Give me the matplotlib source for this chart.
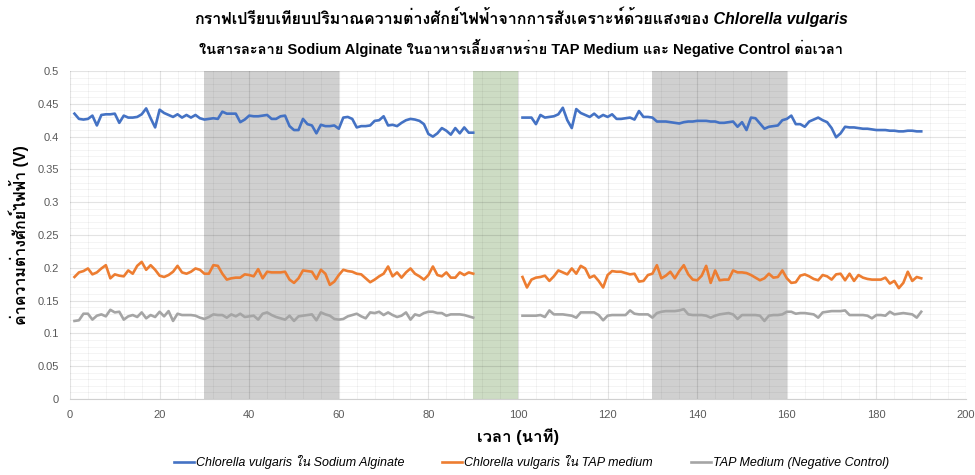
import numpy as np
import matplotlib
matplotlib.use('Agg')
import matplotlib.pyplot as plt
from matplotlib import font_manager
from matplotlib.ft2font import FT2Font
from matplotlib.offsetbox import TextArea, HPacker, AnchoredOffsetbox
from matplotlib.ticker import MultipleLocator

# find some font that can draw Thai
thai_family = None
for f in font_manager.fontManager.ttflist:
    try:
        if 0x0E01 in FT2Font(f.fname).get_charmap():
            thai_family = f.name
            break
    except Exception:
        pass
families = ['Liberation Sans']
if thai_family:
    families.append(thai_family)
families.append('DejaVu Sans')
plt.rcParams['font.family'] = families

#%% data
time_1 = np.arange(1, 91)
time_2 = np.arange(101, 191)

alginate_1 = [0.435, 0.427, 0.426, 0.427, 0.432, 0.417, 0.433, 0.434, 0.434, 0.435,
              0.421, 0.432, 0.429, 0.429, 0.430, 0.434, 0.443, 0.428, 0.414, 0.441,
              0.436, 0.433, 0.430, 0.434, 0.429, 0.433, 0.429, 0.433, 0.428, 0.426,
              0.427, 0.428, 0.427, 0.438, 0.435, 0.435, 0.435, 0.422, 0.426, 0.432,
              0.431, 0.431, 0.432, 0.433, 0.427, 0.427, 0.431, 0.432, 0.416, 0.410,
              0.410, 0.427, 0.419, 0.417, 0.405, 0.418, 0.416, 0.416, 0.417, 0.412,
              0.429, 0.430, 0.427, 0.414, 0.416, 0.416, 0.417, 0.424, 0.425, 0.431,
              0.417, 0.418, 0.416, 0.421, 0.425, 0.427, 0.426, 0.424, 0.419, 0.404,
              0.400, 0.405, 0.413, 0.409, 0.403, 0.413, 0.405, 0.414, 0.406, 0.406]
alginate_2 = [0.429, 0.429, 0.429, 0.419, 0.433, 0.429, 0.430, 0.431, 0.434, 0.444,
              0.425, 0.413, 0.442, 0.436, 0.433, 0.430, 0.435, 0.429, 0.433, 0.430,
              0.434, 0.427, 0.427, 0.428, 0.429, 0.426, 0.439, 0.430, 0.430, 0.429,
              0.423, 0.423, 0.423, 0.422, 0.421, 0.420, 0.422, 0.423, 0.423, 0.424,
              0.424, 0.424, 0.423, 0.423, 0.421, 0.421, 0.422, 0.423, 0.415, 0.422,
              0.410, 0.429, 0.428, 0.420, 0.412, 0.415, 0.416, 0.417, 0.425, 0.427,
              0.432, 0.419, 0.419, 0.415, 0.423, 0.426, 0.429, 0.425, 0.422, 0.413,
              0.399, 0.405, 0.415, 0.414, 0.414, 0.413, 0.412, 0.412, 0.411, 0.410,
              0.410, 0.410, 0.409, 0.409, 0.408, 0.408, 0.409, 0.409, 0.408, 0.408]

tap_1 = [0.186, 0.193, 0.195, 0.199, 0.190, 0.193, 0.199, 0.204, 0.184, 0.190,
         0.188, 0.187, 0.196, 0.191, 0.203, 0.209, 0.197, 0.204, 0.197, 0.188,
         0.186, 0.189, 0.194, 0.203, 0.193, 0.191, 0.194, 0.199, 0.197, 0.191,
         0.191, 0.204, 0.203, 0.191, 0.182, 0.184, 0.185, 0.185, 0.190, 0.189,
         0.187, 0.198, 0.184, 0.194, 0.193, 0.193, 0.193, 0.194, 0.182, 0.177,
         0.184, 0.196, 0.195, 0.194, 0.183, 0.197, 0.191, 0.174, 0.179, 0.189,
         0.197, 0.195, 0.194, 0.191, 0.190, 0.184, 0.178, 0.182, 0.187, 0.191,
         0.202, 0.187, 0.193, 0.185, 0.193, 0.199, 0.191, 0.187, 0.182, 0.189,
         0.202, 0.189, 0.187, 0.193, 0.185, 0.185, 0.193, 0.189, 0.193, 0.191]
tap_2 = [0.186, 0.170, 0.182, 0.185, 0.186, 0.188, 0.180, 0.187, 0.196, 0.193,
         0.190, 0.199, 0.191, 0.203, 0.199, 0.185, 0.188, 0.180, 0.170, 0.189,
         0.195, 0.194, 0.194, 0.192, 0.190, 0.191, 0.179, 0.180, 0.189, 0.191,
         0.204, 0.184, 0.188, 0.194, 0.184, 0.195, 0.204, 0.190, 0.182, 0.181,
         0.188, 0.203, 0.177, 0.196, 0.181, 0.182, 0.182, 0.196, 0.193, 0.193,
         0.192, 0.189, 0.185, 0.181, 0.184, 0.191, 0.185, 0.186, 0.196, 0.184,
         0.177, 0.178, 0.188, 0.190, 0.187, 0.183, 0.181, 0.189, 0.187, 0.182,
         0.190, 0.191, 0.181, 0.191, 0.180, 0.189, 0.185, 0.183, 0.182, 0.182,
         0.182, 0.185, 0.176, 0.180, 0.169, 0.177, 0.194, 0.180, 0.186, 0.184]

control_1 = [0.119, 0.120, 0.130, 0.130, 0.121, 0.127, 0.129, 0.126, 0.136, 0.132,
             0.133, 0.121, 0.126, 0.128, 0.125, 0.132, 0.123, 0.128, 0.125, 0.133,
             0.126, 0.134, 0.119, 0.130, 0.128, 0.128, 0.128, 0.127, 0.124, 0.122,
             0.125, 0.129, 0.128, 0.128, 0.124, 0.129, 0.126, 0.130, 0.125, 0.126,
             0.127, 0.121, 0.130, 0.132, 0.128, 0.125, 0.123, 0.121, 0.127, 0.119,
             0.126, 0.127, 0.128, 0.129, 0.120, 0.132, 0.129, 0.127, 0.122, 0.121,
             0.122, 0.126, 0.128, 0.130, 0.126, 0.123, 0.132, 0.131, 0.133, 0.128,
             0.132, 0.128, 0.125, 0.127, 0.132, 0.121, 0.129, 0.127, 0.131, 0.133,
             0.133, 0.131, 0.131, 0.127, 0.129, 0.129, 0.129, 0.128, 0.126, 0.124]
control_2 = [0.127, 0.127, 0.127, 0.127, 0.128, 0.125, 0.135, 0.129, 0.129, 0.129,
             0.128, 0.127, 0.124, 0.132, 0.132, 0.132, 0.132, 0.128, 0.120, 0.127,
             0.128, 0.128, 0.128, 0.128, 0.135, 0.130, 0.129, 0.129, 0.129, 0.124,
             0.131, 0.133, 0.134, 0.134, 0.134, 0.135, 0.137, 0.129, 0.128, 0.128,
             0.128, 0.127, 0.124, 0.127, 0.129, 0.130, 0.131, 0.129, 0.122, 0.128,
             0.128, 0.128, 0.128, 0.127, 0.119, 0.127, 0.128, 0.128, 0.129, 0.133,
             0.133, 0.130, 0.131, 0.131, 0.130, 0.129, 0.124, 0.132, 0.133, 0.134,
             0.134, 0.134, 0.135, 0.128, 0.128, 0.128, 0.128, 0.127, 0.123, 0.128,
             0.128, 0.127, 0.133, 0.129, 0.130, 0.131, 0.130, 0.129, 0.124, 0.133]

dark_periods = [(30, 60), (130, 160)]
change_period = (90, 100)

labels = ['Chlorella vulgaris ใน Sodium Alginate',
          'Chlorella vulgaris ใน TAP medium',
          'TAP Medium (Negative Control)']
colors = ['#4472C4', '#ED7D31', '#A5A5A5']
title_1 = [('กราฟเปรียบเทียบปริมาณความต่างศักย์ไฟฟ้าจากการสังเคราะห์ด้วยแสงของ', 'normal'),
           (' Chlorella vulgaris', 'italic')]
title_2 = 'ในสารละลาย Sodium Alginate ในอาหารเลี้ยงสาหร่าย TAP Medium และ Negative Control ต่อเวลา'

#%% plot
fig = plt.figure(figsize=(9.75, 4.75), dpi=100)
ax = fig.add_axes([0.0718, 0.16, 0.919, 0.6905])

for a, b in dark_periods:
    ax.axvspan(a, b, color='#d0d0d0', zorder=0.3, lw=0)
ax.axvspan(change_period[0], change_period[1], color='#cddcc4', zorder=0.3, lw=0)

series = [(alginate_1, alginate_2), (tap_1, tap_2), (control_1, control_2)]
for (s1, s2), lab, c in zip(series, labels, colors):
    x = np.concatenate([time_1, [95], time_2])
    y = np.concatenate([s1, [np.nan], s2])
    ax.plot(x, y, color=c, lw=1.9, label=lab, zorder=3)

ax.set_xlim(0, 200)
ax.set_ylim(0, 0.5)
ax.xaxis.set_major_locator(MultipleLocator(20))
ax.xaxis.set_minor_locator(MultipleLocator(4))
ax.yaxis.set_major_locator(MultipleLocator(0.05))
ax.yaxis.set_minor_locator(MultipleLocator(0.01))
ax.set_yticklabels(['0' if t == 0 else ('%g' % t) for t in ax.get_yticks()])
ax.grid(which='major', color='k', alpha=0.11, lw=0.8)
ax.grid(which='minor', color='k', alpha=0.05, lw=0.6)
ax.set_axisbelow(True)
for side in ['top', 'right', 'left']:
    ax.spines[side].set_visible(False)
ax.spines['bottom'].set_color('#d0d0d0')
ax.tick_params(which='both', length=0, labelsize=8, labelcolor='#595959')
ax.tick_params(axis='x', pad=8)
ax.tick_params(axis='y', pad=8)

ax.set_xlabel('เวลา (นาที)', fontsize=12, fontweight='bold', labelpad=6)
ax.set_ylabel('ค่าความต่างศักย์ไฟฟ้า (V)', fontsize=11.5, fontweight='bold', labelpad=6)

# title, with the species name in italics
boxes = [TextArea(t, textprops=dict(fontsize=11.5, fontweight='bold', fontstyle=st))
         for t, st in title_1]
line1 = HPacker(children=boxes, pad=0, sep=0, align='baseline')
fig.add_artist(AnchoredOffsetbox(loc='center', child=line1, frameon=False, pad=0, borderpad=0,
                                 bbox_to_anchor=(0.534, 0.962), bbox_transform=fig.transFigure))
fig.text(0.534, 0.9, title_2, ha='center', va='center', fontsize=10.5, fontweight='bold')

fig.legend(loc='lower center', bbox_to_anchor=(0.545, -0.012), ncol=3, frameon=False,
           handlelength=1.6, handletextpad=0.2, columnspacing=3.0,
           prop=dict(size=9, style='italic'))

fig.savefig('out.png', dpi=100)
